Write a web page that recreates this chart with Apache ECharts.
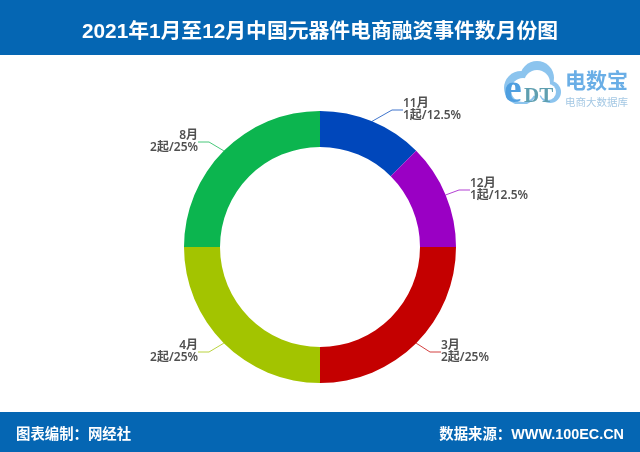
<!DOCTYPE html>
<html>
<head>
<meta charset="utf-8">
<style>
html, body { margin: 0; padding: 0; background: #fff; }
#main { width: 640px; height: 452px; }
</style>
<script src="https://cdn.jsdelivr.net/npm/echarts@6/dist/echarts.min.js"></script>
</head>
<body>
<div id="main"></div>
<script>
var titleText = '2021年1月至12月中国元器件电商融资事件数月份图';
var footerLeft = '图表编制：网经社';
var footerRight = '数据来源：WWW.100EC.CN';

var months = ['11月', '12月', '3月', '4月', '8月'];
var counts = [1, 1, 2, 2, 2];
var shares = ['12.5%', '12.5%', '25%', '25%', '25%'];
var colors = ['#0047bb', '#9a00c4', '#c40000', '#a3c400', '#0cb54f'];

var font = '"Liberation Sans", "Noto Sans CJK SC", sans-serif';
var labelFont = '"Noto Sans", "Noto Sans CJK SC", sans-serif';
var blue = '#0566b3';
var cloud = '#8cc4ee';

var pieData = months.map(function (m, i) {
    return { name: m, value: counts[i], share: shares[i], itemStyle: { color: colors[i] } };
});

// 标签位置（文字靠近引导线的一端）
var labelSpots = [[403, 110, 'left'], [470, 190, 'left'], [441, 352, 'left'], [198, 352, 'right'], [198, 142, 'right']];

var myChart = echarts.init(document.getElementById('main'));
myChart.setOption({
    animation: false,
    backgroundColor: '#fff',
    title: [
        { text: titleText, left: 'center', top: 17, textStyle: { color: '#fff', fontFamily: font, fontWeight: 'bold', fontSize: 20.8 } },
        { text: footerLeft, left: 11, top: 423, textStyle: { color: '#fff', fontFamily: font, fontWeight: 'bold', fontSize: 14.4 } },
        { text: footerRight, right: 11, top: 423, textStyle: { color: '#fff', fontFamily: font, fontWeight: 'bold', fontSize: 14.4 } }
    ],
    graphic: [
        { type: 'rect', z: -1, shape: { x: 0, y: 0, width: 640, height: 55 }, style: { fill: blue } },
        { type: 'rect', z: -1, shape: { x: 0, y: 412, width: 640, height: 40 }, style: { fill: blue } },
        // 右上角logo
        { type: 'circle', z: 1, shape: { cx: 521, cy: 88, r: 17 }, style: { fill: cloud } },
        { type: 'circle', z: 1, shape: { cx: 537, cy: 78, r: 17 }, style: { fill: cloud } },
        { type: 'circle', z: 1, shape: { cx: 550, cy: 92, r: 11 }, style: { fill: cloud } },
        { type: 'circle', z: 2, shape: { cx: 523, cy: 90, r: 12 }, style: { fill: '#fff' } },
        { type: 'circle', z: 2, shape: { cx: 537, cy: 83, r: 13 }, style: { fill: '#fff' } },
        { type: 'circle', z: 2, shape: { cx: 548, cy: 92, r: 8 }, style: { fill: '#fff' } },
        { type: 'rect', z: 2, shape: { x: 503, y: 104, width: 60, height: 4 }, style: { fill: '#fff' } },
        { type: 'text', z: 3, style: { x: 504, y: 72, text: 'e', fill: '#4f9fe0', font: 'bold 40px "Liberation Serif"' } },
        { type: 'text', z: 3, style: { x: 524, y: 86, text: 'DT', fill: '#5f9fb0', font: 'bold 21px "Liberation Serif"' } },
        { type: 'text', z: 3, style: { x: 565, y: 72, text: '电数宝', fill: '#6aaee6', font: 'bold 21px ' + font } },
        { type: 'text', z: 3, style: { x: 565, y: 98, text: '电商大数据库', fill: '#a4c8e4', font: '10.5px ' + font } }
    ],
    series: [{
        type: 'pie',
        center: [320, 247],
        radius: [100, 136],
        startAngle: 90,
        clockwise: true,
        data: pieData,
        label: {
            color: '#505050',
            fontFamily: labelFont,
            fontSize: 12,
            fontWeight: 600,
            lineHeight: 12,
            padding: [2, 0, 0, 0],
            formatter: function (p) {
                return p.name + '\n' + p.value + '起/' + p.data.share;
            }
        },
        labelLine: {
            length: 18,
            length2: 11,
            lineStyle: { width: 1, opacity: 0.75 }
        },
        labelLayout: function (params) {
            var spot = labelSpots[params.dataIndex];
            return { x: spot[0], y: spot[1], align: spot[2], verticalAlign: 'middle' };
        },
        emphasis: { disabled: true }
    }]
});
</script>
</body>
</html>
